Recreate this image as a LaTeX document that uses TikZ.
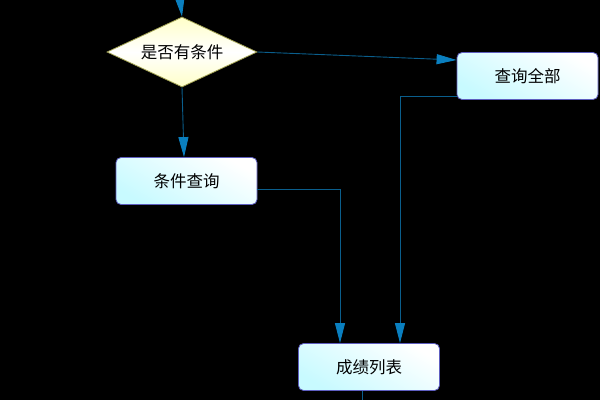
\documentclass[tikz,border=0pt]{standalone}
\usepackage{fontspec}
\newfontfamily\cjk{Noto Sans CJK SC}
\usetikzlibrary{shapes.geometric,arrows.meta}
\definecolor{boxline}{HTML}{5E5EC0}
\definecolor{boxfill}{HTML}{C8FAFF}
\definecolor{dfill}{HTML}{FFFFC8}
\definecolor{dline}{HTML}{A0A050}
\definecolor{conn}{HTML}{0A5E8C}
\definecolor{tipc}{HTML}{0A7FBF}
\tikzset{
  proc/.style={draw=boxline, line width=0.8pt, rounded corners=5pt, minimum width=141pt, minimum height=47pt, top color=white, bottom color=boxfill, shading angle=-30, font=\cjk\fontsize{16.5}{19}\selectfont, text=black, inner sep=0pt},
  dec/.style={diamond, draw=dline, line width=0.8pt, minimum width=150pt, minimum height=70pt, aspect=2.14, inner sep=0pt, left color=dfill, right color=dfill, middle color=white, shading angle=0, font=\cjk\fontsize{16.5}{19}\selectfont, text=black},
  flow/.style={draw=conn, line width=0.9pt, -{Triangle[length=20pt,width=10pt,fill=tipc,color=tipc]}},
  plain/.style={draw=conn, line width=0.9pt}
}
\begin{document}
\begin{tikzpicture}[x=1pt,y=-1pt]
\fill[black] (0,0) rectangle (600,400);
\useasboundingbox (0,0) rectangle (600,400);
\node[dec] (d) at (182,52) {是否有条件};
\node[proc] (all) at (527.5,76) {查询全部};
\node[proc] (cq) at (186.5,181) {条件查询};
\node[proc] (res) at (369,367) {成绩列表};
\coordinate (top) at (180,0);
\coordinate (bot) at (362,400);
\draw[flow] (top) -- (d.north);
\draw[flow] (d.east) -- (all.west |- 0,60);
\draw[flow] (d.south) -- (cq.north -| 184,0);
\draw[flow] (cq.east |- 0,189) -| (res.north -| 340,0);
\draw[flow] (all.west |- 0,96) -| (res.north -| 400,0);
\draw[plain] (res.south -| bot) -- (bot);
\end{tikzpicture}
\end{document}
